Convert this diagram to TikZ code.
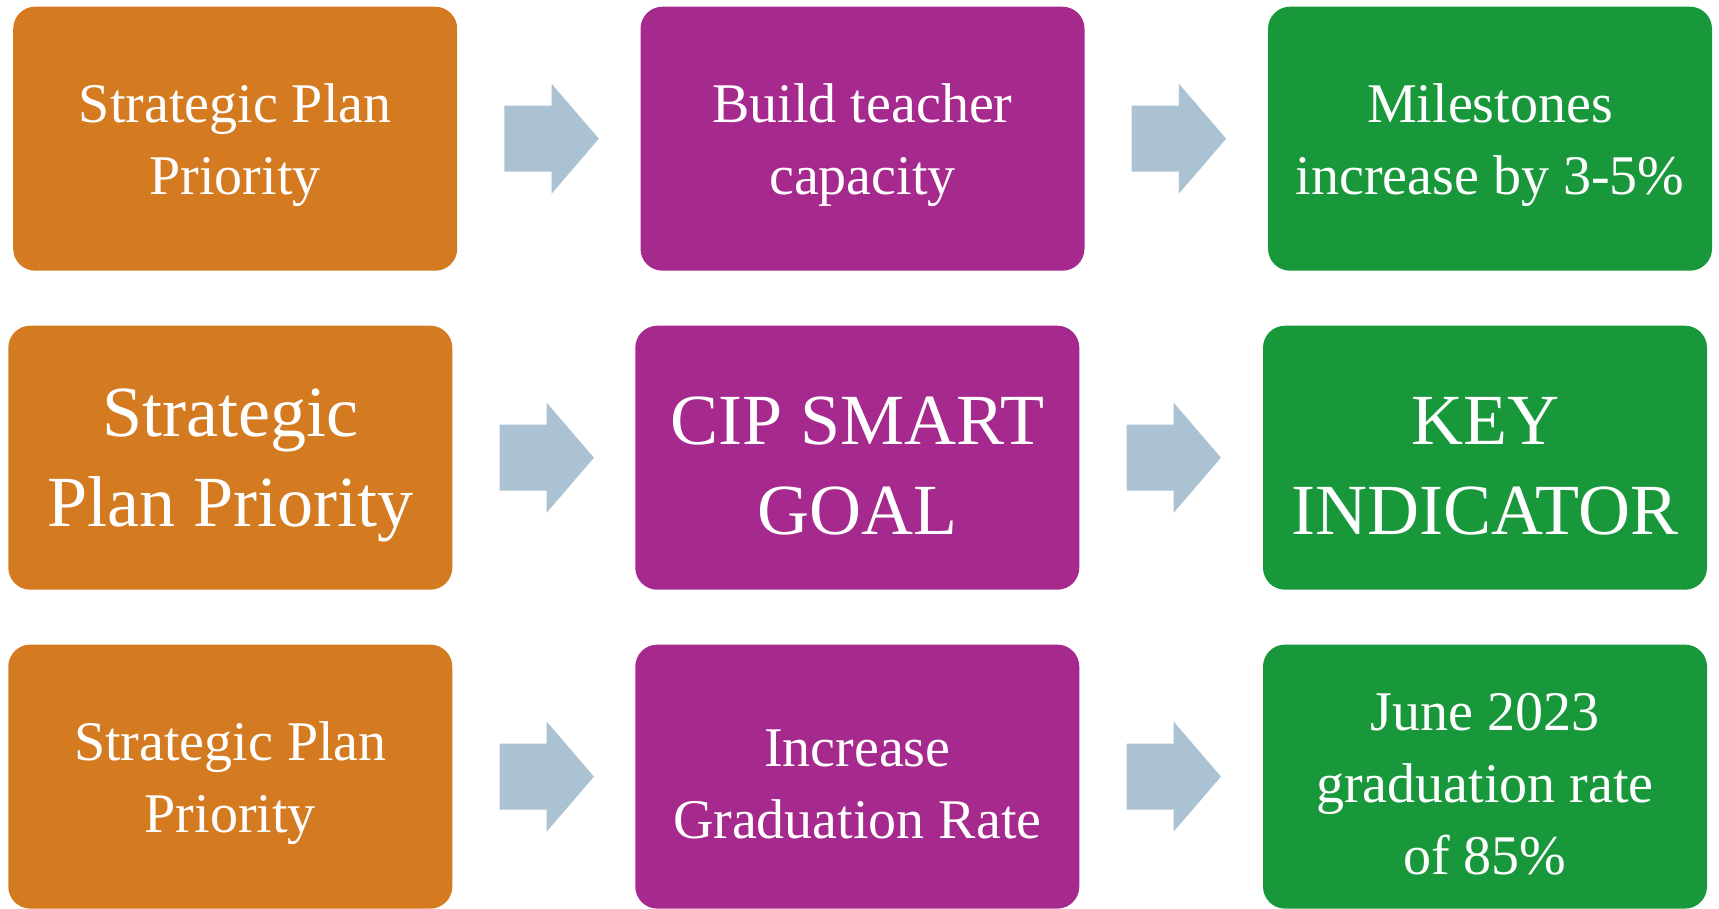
\documentclass[tikz,border=0pt]{standalone}
\usepackage{fontspec}
\setmainfont{Liberation Serif}
\usetikzlibrary{calc}
\definecolor{boxorange}{RGB}{212,123,34}
\definecolor{boxpurple}{RGB}{166,41,141}
\definecolor{boxgreen}{RGB}{24,152,59}
\definecolor{arrowblue}{RGB}{170,194,210}
\newcommand{\lowerby}{\rule{0pt}{\dimexpr 0.69em+14pt\relax}}
\tikzset{
  card/.style={rounded corners=22pt, minimum width=444pt, minimum height=264pt,
    inner sep=0pt, align=center, text=white},
  small/.style={card, font=\fontsize{56}{72}\selectfont},
  big/.style={card, font=\fontsize{72}{90}\selectfont},
  orangebox/.style={fill=boxorange},
  purplebox/.style={fill=boxpurple},
  greenbox/.style={fill=boxgreen},
  blockarrow/.style={fill=arrowblue}
}
\newcommand{\blockarrowat}[1]{%
  \fill[blockarrow] ($(#1)+(0,-33)$) -- ++(47.2,0) -- ++(0,-22) -- ++(47.2,55)
    -- ++(-47.2,55) -- ++(0,-22) -- ++(-47.2,0) -- cycle;}
\begin{document}
\begin{tikzpicture}[x=1pt,y=-1pt]
\useasboundingbox (0,0) rectangle (1719,908);
% row 1
\node[small, orangebox] (o1) at (235.2,138.7) {\lowerby Strategic Plan\\Priority};
\node[small, purplebox] (p1) at (862.5,138.7) {\lowerby Build teacher\\capacity};
\node[small, greenbox] (g1) at (1490,138.7) {\lowerby Milestones\\increase by 3-5\%};
% row 2
\node[big, orangebox] (o2) at (230.3,457.7) {\lowerby Strategic\\Plan Priority};
\node[big, purplebox] (p2) at (857.3,457.7) {\lowerby CIP SMART\\GOAL};
\node[big, greenbox] (g2) at (1485,457.7) {\lowerby KEY\\INDICATOR};
% row 3
\node[small, orangebox] (o3) at (230.3,776.6) {\lowerby Strategic Plan\\Priority};
\node[small, purplebox] (p3) at (857.3,776.6) {\lowerby Increase\\Graduation Rate};
\node[small, greenbox] (g3) at (1485,776.6) {\lowerby June 2023\\graduation rate\\of 85\%};
% arrows
\coordinate (a1) at ($(o1.east)+(47,0)$);
\coordinate (b1) at ($(p1.east)+(47,0)$);
\coordinate (a2) at ($(o2.east)+(47,0)$);
\coordinate (b2) at ($(p2.east)+(47,0)$);
\coordinate (a3) at ($(o3.east)+(47,0)$);
\coordinate (b3) at ($(p3.east)+(47,0)$);
\blockarrowat{a1}\blockarrowat{b1}
\blockarrowat{a2}\blockarrowat{b2}
\blockarrowat{a3}\blockarrowat{b3}
\end{tikzpicture}
\end{document}
